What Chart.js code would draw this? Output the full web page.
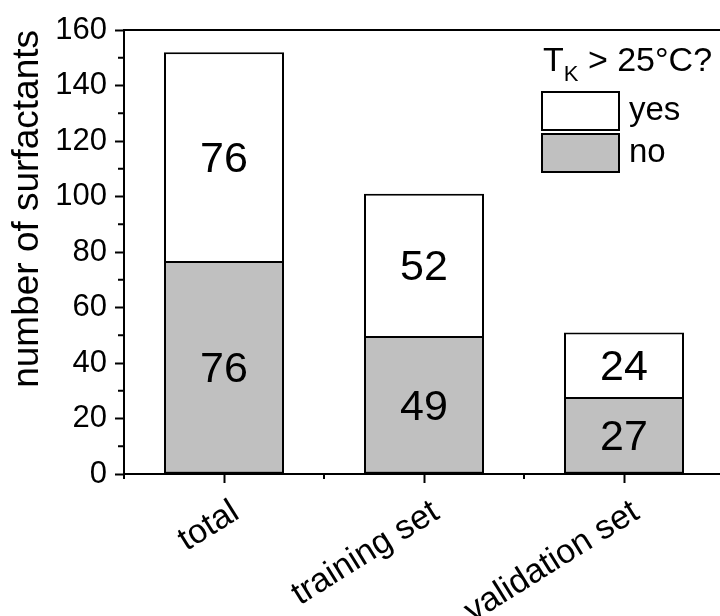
<!DOCTYPE html>
<html>
<head>
<meta charset="utf-8">
<script src="https://cdn.jsdelivr.net/npm/chart.js@4.4.0/dist/chart.umd.min.js"></script>
<style>
html, body { margin: 0; padding: 0; background: #fff; overflow: hidden; }
#wrap { width: 740px; height: 616px; }
</style>
</head>
<body>
<div id="wrap"><canvas id="chart"></canvas></div>
<script>
// données
const categories = ['total', 'training set', 'validation set'];
const noValues = [76, 49, 27];
const yesValues = [76, 52, 24];
const yMin = 0;
const yMax = 160;
const yStep = 20;
const yMinorStep = 10;

const FONT = '"Liberation Sans", Arial, sans-serif';

const extras = {
    id: 'extras',
    afterDraw: (chart) => {
        const { ctx, chartArea, scales } = chart;
        const { left, right, top, bottom } = chartArea;
        ctx.save();
        ctx.strokeStyle = '#000';
        ctx.lineWidth = 2;

        // cadre haut + droite
        ctx.beginPath();
        ctx.moveTo(left, top);
        ctx.lineTo(right, top);
        ctx.lineTo(right, bottom);
        ctx.stroke();

        // petites graduations y
        ctx.beginPath();
        for (let v = yMin + yMinorStep; v < yMax; v += yStep) {
            const py = scales.y.getPixelForValue(v);
            ctx.moveTo(left, py);
            ctx.lineTo(left - 6, py);
        }
        // petites graduations x (entre les catégories)
        const n = categories.length;
        for (let i = 0; i <= n; i++) {
            const px = left + (right - left) * i / n;
            ctx.moveTo(px, bottom);
            ctx.lineTo(px, bottom + 5);
        }
        ctx.stroke();

        // valeurs dans les barres
        ctx.fillStyle = '#000';
        ctx.font = '43px ' + FONT;
        ctx.textAlign = 'center';
        ctx.textBaseline = 'middle';
        chart.data.datasets.forEach((ds, di) => {
            const meta = chart.getDatasetMeta(di);
            meta.data.forEach((bar, i) => {
                const yc = (bar.y + bar.base) / 2;
                ctx.fillText(String(ds.data[i]), bar.x, yc + 2);
            });
        });

        // légende
        const lx = right - 182;
        ctx.textAlign = 'left';
        ctx.textBaseline = 'alphabetic';
        ctx.font = '34px ' + FONT;
        ctx.fillText('T', lx + 1, 71);
        let w = ctx.measureText('T').width;
        ctx.font = '22px ' + FONT;
        ctx.fillText('K', lx + 1 + w, 81);
        w += ctx.measureText('K').width;
        ctx.font = '34px ' + FONT;
        ctx.fillText(' > 25°C?', lx + 1 + w, 71);

        const entries = [chart.data.datasets[1], chart.data.datasets[0]];
        entries.forEach((ds, k) => {
            const by = 92 + k * 42;
            ctx.fillStyle = ds.backgroundColor;
            ctx.fillRect(lx, by, 77, 38);
            ctx.strokeRect(lx, by, 77, 38);
            ctx.fillStyle = '#000';
            ctx.font = '33px ' + FONT;
            ctx.textBaseline = 'middle';
            ctx.fillText(ds.label, lx + 87, by + 19);
        });
        ctx.restore();
    }
};

document.addEventListener('DOMContentLoaded', () => {
    const ctx = document.getElementById('chart').getContext('2d');
    new Chart(ctx, {
        type: 'bar',
        data: {
            labels: categories,
            datasets: [
                {
                    label: 'no',
                    data: noValues,
                    backgroundColor: '#c0c0c0',
                    borderColor: '#000',
                    borderWidth: 2,
                    borderSkipped: 'end',
                    barPercentage: 0.6,
                    categoryPercentage: 1
                },
                {
                    label: 'yes',
                    data: yesValues,
                    backgroundColor: '#ffffff',
                    borderColor: '#000',
                    borderWidth: 2,
                    borderSkipped: false,
                    barPercentage: 0.6,
                    categoryPercentage: 1
                }
            ]
        },
        options: {
            responsive: true,
            maintainAspectRatio: false,
            animation: false,
            layout: { padding: { top: 30, right: 16, left: 0, bottom: 0 } },
            plugins: {
                legend: { display: false },
                tooltip: { enabled: false }
            },
            scales: {
                x: {
                    stacked: true,
                    afterFit: (scale) => { scale.height = 142; },
                    grid: {
                        offset: false,
                        drawOnChartArea: false,
                        tickLength: 9,
                        tickWidth: 2,
                        tickColor: '#000'
                    },
                    border: { display: true, color: '#000', width: 2 },
                    ticks: {
                        color: '#000',
                        font: { family: FONT, size: 34 },
                        minRotation: 32,
                        maxRotation: 32,
                        autoSkip: false,
                        padding: 9,
                        labelOffset: 12
                    }
                },
                y: {
                    stacked: true,
                    min: yMin,
                    max: yMax,
                    afterFit: (scale) => { scale.width = 124; },
                    grid: {
                        drawOnChartArea: false,
                        tickLength: 9,
                        tickWidth: 2,
                        tickColor: '#000'
                    },
                    border: { display: true, color: '#000', width: 2 },
                    ticks: {
                        stepSize: yStep,
                        color: '#000',
                        font: { family: FONT, size: 31 },
                        padding: 8
                    },
                    title: {
                        display: true,
                        text: 'number of surfactants',
                        align: 'end',
                        color: '#000',
                        font: { family: FONT, size: 37 },
                        padding: { top: 6, bottom: 0 }
                    }
                }
            }
        },
        plugins: [extras]
    });
});
</script>
</body>
</html>
